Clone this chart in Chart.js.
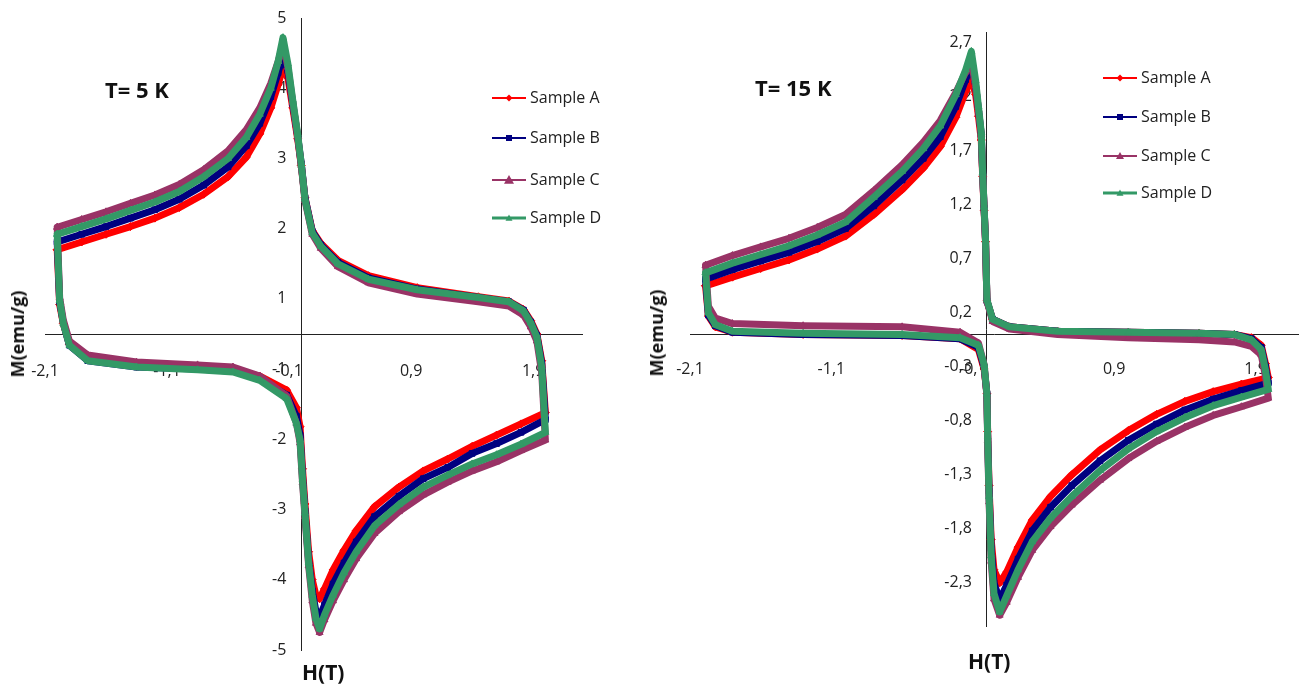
<!DOCTYPE html>
<html>
<head>
<meta charset="utf-8">
<script src="https://cdn.jsdelivr.net/npm/chart.js@4.4.0/dist/chart.umd.min.js"></script>
<style>
html,body{margin:0;padding:0;background:#fff;}
body{width:1300px;height:687px;position:relative;overflow:hidden;font-family:'Open Sans',sans-serif;}
canvas{position:absolute;top:0;}
.lbl{position:absolute;color:#111;font-weight:bold;white-space:nowrap;line-height:1;}
.rot{position:absolute;color:#111;font-weight:bold;white-space:nowrap;line-height:1;transform:translate(-50%,-50%) rotate(-90deg);}
</style>
</head>
<body>
<canvas id="c1" width="640" height="687" style="left:0px"></canvas>
<canvas id="c2" width="650" height="687" style="left:650px"></canvas>
<div class="lbl" style="left:105px;top:78px;font-size:22px">T= 5 K</div>
<div class="lbl" style="left:755px;top:76px;font-size:22px">T= 15 K</div>
<div class="lbl" style="left:302px;top:662px;font-size:21px">H(T)</div>
<div class="lbl" style="left:968px;top:651px;font-size:21px">H(T)</div>
<div class="rot" style="left:17px;top:334px;font-size:18px">M(emu/g)</div>
<div class="rot" style="left:656px;top:333px;font-size:18px">M(emu/g)</div>
<script>
// ---------- data ----------
const sampleNames = ['Sample A', 'Sample B', 'Sample C', 'Sample D'];

// T = 5 K : field path (T) and magnetization (emu/g)
const h5K = [-2.00, -1.80, -1.60, -1.40, -1.20, -1.00, -0.80, -0.60, -0.45, -0.34, -0.25, -0.19, -0.15, -0.11, -0.07, -0.03, 0.00, 0.03, 0.09, 0.16, 0.30, 0.55, 0.95, 1.45, 1.70, 1.82, 1.88, 1.93, 1.97, 2.00,
  1.80, 1.60, 1.40, 1.20, 1.00, 0.80, 0.60, 0.45, 0.35, 0.26, 0.19, 0.15, 0.12, 0.09, 0.06, 0.03, 0.01, -0.01, -0.04, -0.12, -0.34, -0.56, -0.85, -1.35, -1.75, -1.90, -1.95, -1.98, -2.00];
const mA5K = [1.20, 1.31, 1.42, 1.53, 1.65, 1.80, 1.99, 2.24, 2.52, 2.85, 3.22, 3.55, 3.80, 3.65, 3.22, 2.78, 2.40, 1.94, 1.47, 1.29, 1.05, 0.83, 0.66, 0.53, 0.47, 0.35, 0.19, 0.00, -0.38, -1.12,
  -1.28, -1.44, -1.60, -1.78, -1.95, -2.18, -2.46, -2.80, -3.08, -3.36, -3.63, -3.77, -3.72, -3.50, -3.10, -2.42, -1.92, -1.32, -1.05, -0.80, -0.60, -0.51, -0.49, -0.46, -0.37, -0.15, 0.15, 0.42, 1.20];
const mB5K = [1.31, 1.42, 1.53, 1.65, 1.77, 1.92, 2.12, 2.38, 2.68, 3.00, 3.38, 3.72, 3.97, 3.75, 3.28, 2.82, 2.42, 1.94, 1.46, 1.27, 1.02, 0.80, 0.64, 0.52, 0.46, 0.34, 0.17, -0.02, -0.42, -1.22,
  -1.40, -1.56, -1.70, -1.90, -2.06, -2.31, -2.60, -2.96, -3.26, -3.56, -3.86, -4.03, -3.95, -3.66, -3.22, -2.52, -2.02, -1.44, -1.17, -0.87, -0.64, -0.53, -0.50, -0.47, -0.38, -0.16, 0.16, 0.46, 1.31];
const mC5K = [1.52, 1.63, 1.74, 1.86, 1.98, 2.13, 2.34, 2.61, 2.91, 3.22, 3.57, 3.88, 4.12, 3.80, 3.30, 2.82, 2.40, 1.90, 1.42, 1.22, 0.96, 0.73, 0.57, 0.46, 0.40, 0.27, 0.10, -0.10, -0.55, -1.51,
  -1.66, -1.82, -1.95, -2.11, -2.29, -2.53, -2.84, -3.20, -3.50, -3.80, -4.07, -4.25, -4.12, -3.80, -3.30, -2.60, -2.12, -1.55, -1.27, -0.88, -0.60, -0.47, -0.44, -0.40, -0.30, -0.10, 0.20, 0.52, 1.52];
const mD5K = [1.42, 1.53, 1.64, 1.76, 1.88, 2.03, 2.24, 2.50, 2.80, 3.13, 3.50, 3.88, 4.22, 3.85, 3.33, 2.85, 2.42, 1.92, 1.44, 1.25, 1.00, 0.78, 0.63, 0.52, 0.46, 0.33, 0.16, -0.04, -0.47, -1.40,
  -1.57, -1.72, -1.85, -2.01, -2.18, -2.43, -2.73, -3.10, -3.40, -3.72, -4.00, -4.20, -4.05, -3.72, -3.26, -2.55, -2.08, -1.51, -1.27, -0.92, -0.66, -0.54, -0.51, -0.47, -0.38, -0.16, 0.15, 0.48, 1.42];

// T = 15 K
const h15K = [-1.99, -1.80, -1.60, -1.40, -1.20, -1.00, -0.80, -0.60, -0.45, -0.33, -0.22, -0.15, -0.11, -0.08, -0.06, -0.04, -0.03, -0.02, -0.01, 0.00, 0.04, 0.16, 0.50, 1.00, 1.50, 1.75, 1.87, 1.94, 1.97, 1.99,
  1.80, 1.60, 1.40, 1.20, 1.00, 0.80, 0.60, 0.45, 0.32, 0.22, 0.14, 0.09, 0.05, 0.03, 0.015, 0.005, 0.00, -0.02, -0.06, -0.19, -0.60, -1.30, -1.80, -1.92, -1.97, -1.99];
const mA15K = [0.45, 0.53, 0.61, 0.69, 0.79, 0.91, 1.11, 1.34, 1.54, 1.74, 2.01, 2.25, 2.37, 2.22, 2.02, 1.80, 1.46, 1.15, 0.86, 0.31, 0.14, 0.07, 0.03, 0.02, 0.01, 0.00, -0.03, -0.10, -0.27, -0.40,
  -0.46, -0.53, -0.62, -0.74, -0.89, -1.07, -1.30, -1.50, -1.72, -1.97, -2.20, -2.30, -2.18, -1.90, -1.40, -0.90, -0.55, -0.32, -0.14, -0.04, -0.01, 0.00, 0.02, 0.07, 0.17, 0.45];
const mB15K = [0.51, 0.60, 0.68, 0.76, 0.86, 0.98, 1.19, 1.43, 1.63, 1.83, 2.11, 2.36, 2.50, 2.30, 2.08, 1.85, 1.49, 1.17, 0.87, 0.31, 0.14, 0.07, 0.03, 0.02, 0.01, 0.00, -0.04, -0.12, -0.30, -0.45,
  -0.52, -0.60, -0.70, -0.83, -0.98, -1.17, -1.40, -1.60, -1.82, -2.08, -2.32, -2.46, -2.30, -1.98, -1.45, -0.92, -0.55, -0.30, -0.12, -0.04, -0.01, 0.00, 0.02, 0.08, 0.18, 0.51];
const mC15K = [0.64, 0.73, 0.81, 0.89, 0.99, 1.11, 1.33, 1.57, 1.78, 1.98, 2.24, 2.43, 2.52, 2.30, 2.08, 1.85, 1.49, 1.17, 0.87, 0.31, 0.12, 0.05, 0.00, -0.03, -0.05, -0.07, -0.11, -0.19, -0.39, -0.59,
  -0.67, -0.75, -0.86, -0.99, -1.15, -1.35, -1.58, -1.78, -2.00, -2.25, -2.48, -2.60, -2.45, -2.10, -1.55, -0.98, -0.57, -0.28, -0.08, 0.02, 0.07, 0.08, 0.10, 0.15, 0.26, 0.64];
const mD15K = [0.57, 0.66, 0.74, 0.82, 0.92, 1.04, 1.27, 1.51, 1.72, 1.93, 2.22, 2.45, 2.62, 2.35, 2.11, 1.87, 1.50, 1.18, 0.88, 0.32, 0.14, 0.07, 0.03, 0.02, 0.01, 0.00, -0.05, -0.14, -0.33, -0.51,
  -0.58, -0.66, -0.77, -0.90, -1.06, -1.26, -1.50, -1.70, -1.92, -2.18, -2.42, -2.57, -2.40, -2.05, -1.50, -0.95, -0.55, -0.28, -0.10, -0.03, 0.00, 0.01, 0.03, 0.09, 0.20, 0.57];

// tick values and labels
const xTickVals = [-2.1, -1.1, -0.1, 0.9, 1.9];
const xTickLabels = ['-2,1', '-1,1', '-0,1', '0,9', '1,9'];
const yTickVals5K = [-4.5, -3.5, -2.5, -1.5, -0.5, 0.5, 1.5, 2.5, 3.5, 4.5];
const yTickLabels5K = ['-5', '-4', '-3', '-2', '-1', '1', '2', '3', '4', '5'];
const yTickVals15K = [-2.3, -1.8, -1.3, -0.8, -0.3, 0.2, 0.7, 1.2, 1.7, 2.2, 2.7];
const yTickLabels15K = ['-2,3', '-1,8', '-1,3', '-0,8', '-0,3', '0,2', '0,7', '1,2', '1,7', '2,2', '2,7'];

// ---------- styles ----------
const colors = ['#FF0000', '#000080', '#993366', '#339966'];
const markers = ['rectRot', 'rect', 'triangle', 'triangle'];
const TICK_FONT = {family: "'Open Sans', sans-serif", size: 16};

function pts(h, m) { return h.map((v, i) => ({x: v, y: m[i]})); }

function makeDatasets(h, series) {
  return series.map((m, i) => ({
    label: sampleNames[i],
    data: pts(h, m),
    showLine: true,
    borderColor: colors[i],
    backgroundColor: colors[i],
    borderWidth: 7,
    borderJoinStyle: 'round',
    borderCapStyle: 'round',
    pointStyle: markers[i],
    pointRadius: 4,
    pointBorderWidth: 1,
    pointBorderColor: colors[i],
    pointBackgroundColor: colors[i],
    order: 4 - i,
    tension: 0
  }));
}

const yLabelPlugin = {
  id: 'yLabels',
  beforeDatasetsDraw(chart, args, opts) {
    const {ctx, scales} = chart;
    const x0 = scales.x.getPixelForValue(0);
    ctx.save();
    ctx.font = "16px 'Open Sans', sans-serif";
    ctx.fillStyle = '#222';
    ctx.textAlign = 'right';
    ctx.textBaseline = 'middle';
    opts.values.forEach((v, i) => ctx.fillText(opts.labels[i], x0 - opts.gap, scales.y.getPixelForValue(v)));
    ctx.restore();
  }
};

const legendPlugin = {
  id: 'sideLegend',
  afterDraw(chart, args, opts) {
    const {ctx} = chart;
    ctx.save();
    chart.data.datasets.forEach((ds, i) => {
      const y = opts.ys[i];
      const x0 = opts.x;
      ctx.strokeStyle = ds.borderColor;
      ctx.lineWidth = i === 3 ? 3 : 2;
      ctx.beginPath(); ctx.moveTo(x0, y); ctx.lineTo(x0 + 34, y); ctx.stroke();
      ctx.fillStyle = ds.borderColor;
      const cx = x0 + 17;
      ctx.beginPath();
      if (i === 0) { ctx.moveTo(cx, y - 3.5); ctx.lineTo(cx + 3.5, y); ctx.lineTo(cx, y + 3.5); ctx.lineTo(cx - 3.5, y); }
      else if (i === 1) { ctx.rect(cx - 3, y - 3, 6, 6); }
      else { const r = i === 2 ? opts.triC : 3.5; ctx.moveTo(cx, y - r); ctx.lineTo(cx + r, y + r * 0.75); ctx.lineTo(cx - r, y + r * 0.75); }
      ctx.closePath(); ctx.fill();
      ctx.fillStyle = '#222';
      ctx.font = "16px 'Open Sans', sans-serif";
      ctx.textAlign = 'left';
      ctx.textBaseline = 'middle';
      ctx.fillText(ds.label, x0 + 38, y);
    });
    ctx.restore();
  }
};

function makeChart(id, h, series, xr, yr, pad, xTickLen, yTicks, yLabels, legendOpts) {
  return new Chart(document.getElementById(id), {
    type: 'scatter',
    data: {datasets: makeDatasets(h, series)},
    plugins: [yLabelPlugin, legendPlugin],
    options: {
      responsive: false,
      animation: false,
      events: [],
      layout: {padding: pad, autoPadding: false},
      plugins: {
        legend: {display: false},
        tooltip: {enabled: false},
        yLabels: {values: yTicks, labels: yLabels, gap: 15},
        sideLegend: legendOpts
      },
      scales: {
        x: {
          type: 'linear', min: xr[0], max: xr[1],
          position: {y: 0},
          grid: {display: false, drawTicks: true, tickLength: xTickLen},
          border: {display: true, color: '#222', width: 1},
          afterBuildTicks: s => { s.ticks = xTickVals.map(v => ({value: v})); },
          ticks: {autoSkip: false, padding: 0, maxRotation: 0, color: '#222', font: TICK_FONT,
                  callback: (v, i) => xTickLabels[i]}
        },
        y: {
          type: 'linear', min: yr[0], max: yr[1],
          position: {x: 0},
          grid: {display: false, drawTicks: false},
          border: {display: true, color: '#222', width: 1},
          afterBuildTicks: s => { s.ticks = yTicks.map(v => ({value: v})); },
          ticks: {display: false}
        }
      }
    }
  });
}

makeChart('c1', h5K, [mA5K, mB5K, mC5K, mD5K], [-2.1, 2.3], [-4.5, 4.5],
  {left: 45, right: 58, top: 18, bottom: 37}, 28, yTickVals5K, yTickLabels5K,
  {x: 492, ys: [98, 138, 180, 218], triC: 5});
makeChart('c2', h15K, [mA15K, mB15K, mC15K, mD15K], [-2.1, 2.2], [-2.7, 2.8],
  {left: 40, right: 2, top: 32, bottom: 61}, 25, yTickVals15K, yTickLabels15K,
  {x: 453, ys: [78, 117, 156, 193], triC: 4});
</script>
</body>
</html>
